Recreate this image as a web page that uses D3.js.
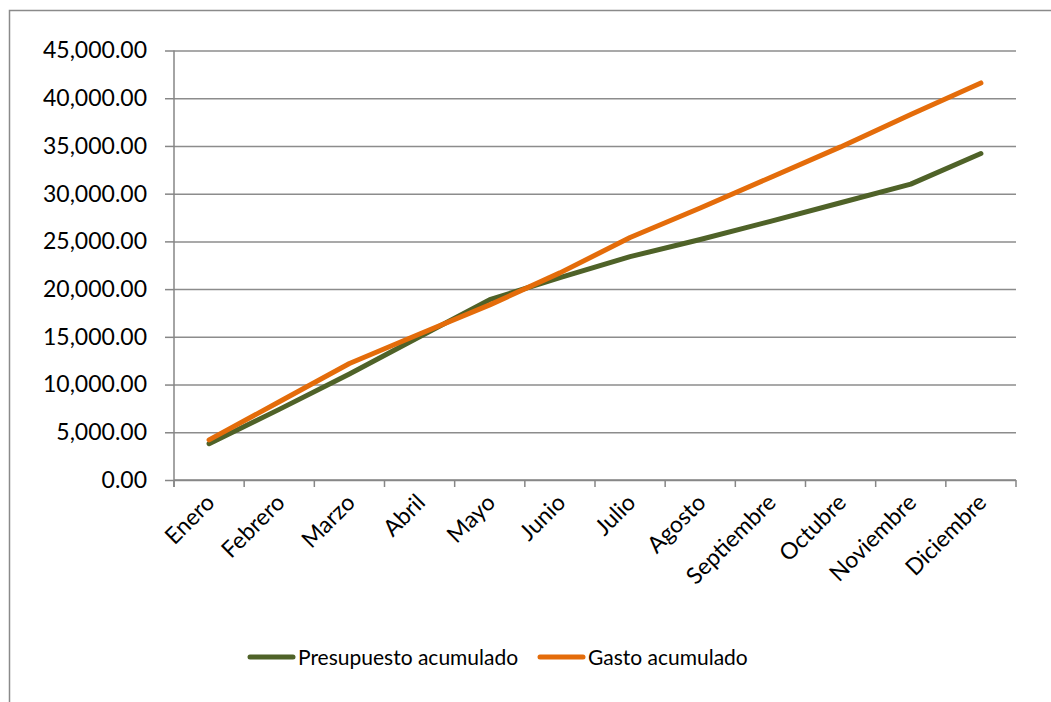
<!DOCTYPE html>
<head>
  <style>
    body { margin: 0; background: #fff; }
    svg { display: block; }
    .axis text { font-family: Lato, sans-serif; font-size: 23px; fill: #000; }
    .axis path, .axis line { fill: none; stroke: #868686; stroke-width: 1.5px; }
    .grid line { stroke: #8c8c8c; stroke-width: 1.5px; }
    .grid path { display: none; }
    .legend text { font-family: Lato, sans-serif; font-size: 21px; fill: #000; }
  </style>
</head>
<body>
<script src="https://d3js.org/d3.v7.min.js"></script>
<script>

var months = ["Enero", "Febrero", "Marzo", "Abril", "Mayo", "Junio", "Julio",
              "Agosto", "Septiembre", "Octubre", "Noviembre", "Diciembre"];

var presupuesto = [3800, 7400, 11100, 15000, 18900, 21200, 23400, 25200, 27100, 29050, 31000, 34200];
var gasto = [4200, 8200, 12200, 15300, 18350, 21700, 25400, 28500, 31700, 34900, 38300, 41600];

var yTicks = [0, 5000, 10000, 15000, 20000, 25000, 30000, 35000, 40000, 45000];

var seriesNames = ["Presupuesto acumulado", "Gasto acumulado"];
var seriesColors = ["#4f6228", "#e46c0a"];

var W = 1051, H = 702;
var margin = {top: 50.5, right: 35, bottom: 222, left: 174},
    width = W - margin.left - margin.right,
    height = H - margin.top - margin.bottom;

var svg = d3.select("body").append("svg")
    .attr("width", W)
    .attr("height", H);

// chart border (runs off the picture on the right and bottom)
svg.append("rect")
    .attr("x", 9.5).attr("y", 10.5)
    .attr("width", 1200).attr("height", 900)
    .attr("fill", "none")
    .attr("stroke", "#8a8a8a")
    .attr("stroke-width", 1.5);

var g = svg.append("g")
    .attr("transform", "translate(" + margin.left + "," + margin.top + ")");

var x = d3.scaleBand().domain(months).range([0, width]);
var y = d3.scaleLinear().domain([0, 45000]).range([height, 0]);

// gridlines
g.append("g")
    .attr("class", "grid")
    .call(d3.axisLeft(y).tickValues(yTicks).tickSize(-width).tickFormat(""));

// y axis
var yAxis = g.append("g")
    .attr("class", "axis")
    .call(d3.axisLeft(y).tickValues(yTicks).tickSize(9).tickPadding(18)
        .tickFormat(d3.format(",.2f")));
yAxis.select(".domain").attr("d", "M0," + (height + 7) + "V0");

// x axis: line with ticks on the category boundaries
var xg = g.append("g")
    .attr("class", "axis")
    .attr("transform", "translate(0," + height + ")");
xg.append("line")
    .attr("x1", 0).attr("x2", width);
xg.selectAll(".bound")
    .data(months.concat(["end"]))
    .enter().append("line")
    .attr("class", "bound")
    .attr("x1", function(d) { return d === "end" ? width : x(d); })
    .attr("x2", function(d) { return d === "end" ? width : x(d); })
    .attr("y1", 0).attr("y2", 7);
xg.selectAll(".lbl")
    .data(months)
    .enter().append("text")
    .attr("class", "lbl")
    .attr("text-anchor", "end")
    .attr("transform", function(d) {
      return "translate(" + (x(d) + x.bandwidth() / 2 + 7) + ",24) rotate(-45)";
    })
    .text(function(d) { return d; });

// lines
var line = d3.line()
    .x(function(d, i) { return x(months[i]) + x.bandwidth() / 2; })
    .y(function(d) { return y(d); });

[presupuesto, gasto].forEach(function(s, i) {
  g.append("path")
      .datum(s)
      .attr("fill", "none")
      .attr("stroke", seriesColors[i])
      .attr("stroke-width", 5)
      .attr("stroke-linejoin", "round")
      .attr("stroke-linecap", "round")
      .attr("d", line);
});

// legend
var legend = svg.append("g").attr("class", "legend");
var legX = [250, 540];
seriesNames.forEach(function(name, i) {
  legend.append("line")
      .attr("x1", legX[i]).attr("x2", legX[i] + 43)
      .attr("y1", 657).attr("y2", 657)
      .attr("stroke", seriesColors[i])
      .attr("stroke-width", 5)
      .attr("stroke-linecap", "round");
  legend.append("text")
      .attr("x", legX[i] + 48)
      .attr("y", 665)
      .text(name);
});

</script>
</body>
